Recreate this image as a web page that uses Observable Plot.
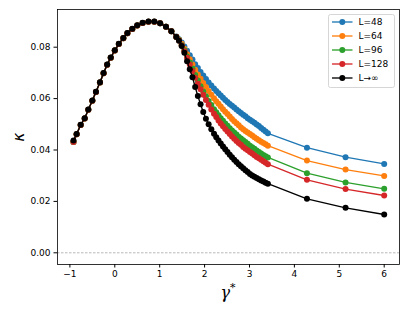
<!DOCTYPE html>
<html>
<head>
<meta charset="utf-8">
<script src="https://cdn.jsdelivr.net/npm/d3@7"></script>
<script src="https://cdn.jsdelivr.net/npm/@observablehq/plot@0.6"></script>
<style>
  html, body { margin: 0; padding: 0; background: white; }
  #chart { width: 409px; height: 313px; }
</style>
</head>
<body>
<div id="chart"></div>
<script>
const gamma = [-0.92,-0.85,-0.76,-0.67,-0.59,-0.50,-0.42,-0.33,-0.25,-0.17,-0.09,0.00,0.09,0.19,0.28,0.39,0.50,0.62,0.75,0.88,1.01,1.14,1.26,
  1.37,1.43,1.49,1.55,1.61,1.67,1.73,1.79,1.85,1.91,1.97,2.03,2.09,2.15,
  2.21,2.26,2.31,2.36,2.41,2.46,2.51,2.56,2.61,2.66,2.71,2.76,2.81,2.86,2.91,2.96,3.01,3.06,3.11,3.16,3.21,3.26,3.31,3.36,3.41,
  4.28,5.14,6.00];

const kappa48 = [0.0431,0.0461,0.0497,0.0523,0.0557,0.0592,0.0626,0.0663,0.0699,0.0732,0.0759,0.0787,0.0812,0.0835,0.0854,0.0871,0.0884,0.0894,0.0899,0.0899,0.0893,0.0880,0.0862,
  0.0842,0.0831,0.0818,0.0803,0.0786,0.0769,0.0752,0.0734,0.0719,0.0704,0.0690,0.0676,0.0663,0.0651,
  0.0639,0.0630,0.0621,0.0612,0.0603,0.0595,0.0587,0.0579,0.0572,0.0565,0.0558,0.0551,0.0544,0.0537,0.0531,0.0524,0.0518,0.0512,0.0506,0.0499,0.0493,0.0486,0.0479,0.0472,0.0465,
  0.0409,0.0372,0.0346];
const kappa64 = [0.0431,0.0461,0.0497,0.0523,0.0557,0.0592,0.0626,0.0663,0.0699,0.0732,0.0759,0.0787,0.0812,0.0835,0.0854,0.0871,0.0884,0.0894,0.0899,0.0899,0.0893,0.0880,0.0862,
  0.0841,0.0829,0.0813,0.0794,0.0773,0.0753,0.0733,0.0712,0.0694,0.0677,0.0661,0.0645,0.0630,0.0615,
  0.0601,0.0590,0.0580,0.0569,0.0559,0.0549,0.0540,0.0530,0.0521,0.0512,0.0504,0.0496,0.0488,0.0481,0.0474,0.0468,0.0462,0.0456,0.0450,0.0444,0.0438,0.0432,0.0427,0.0422,0.0417,
  0.0359,0.0324,0.0299];
const kappa96 = [0.0431,0.0461,0.0497,0.0523,0.0557,0.0592,0.0626,0.0663,0.0699,0.0732,0.0759,0.0787,0.0812,0.0835,0.0854,0.0871,0.0884,0.0894,0.0899,0.0899,0.0893,0.0880,0.0862,
  0.0840,0.0827,0.0809,0.0788,0.0764,0.0740,0.0717,0.0692,0.0670,0.0648,0.0628,0.0609,0.0591,0.0575,
  0.0559,0.0547,0.0535,0.0524,0.0514,0.0503,0.0494,0.0485,0.0476,0.0468,0.0460,0.0452,0.0445,0.0438,0.0431,0.0424,0.0417,0.0411,0.0405,0.0398,0.0392,0.0386,0.0381,0.0376,0.0371,
  0.0310,0.0274,0.0249];
const kappa128 = [0.0431,0.0461,0.0497,0.0523,0.0557,0.0592,0.0626,0.0663,0.0699,0.0732,0.0759,0.0787,0.0812,0.0835,0.0854,0.0871,0.0884,0.0894,0.0899,0.0899,0.0893,0.0880,0.0862,
  0.0840,0.0826,0.0807,0.0784,0.0759,0.0733,0.0707,0.0681,0.0658,0.0636,0.0615,0.0595,0.0576,0.0558,
  0.0541,0.0528,0.0515,0.0503,0.0492,0.0482,0.0472,0.0462,0.0453,0.0444,0.0435,0.0427,0.0420,0.0412,0.0405,0.0399,0.0392,0.0386,0.0380,0.0373,0.0368,0.0362,0.0356,0.0350,0.0345,
  0.0284,0.0248,0.0223];
const kappaInf = [0.0437,0.0462,0.0498,0.0524,0.0558,0.0593,0.0627,0.0664,0.0700,0.0733,0.0760,0.0788,0.0813,0.0836,0.0855,0.0872,0.0885,0.0895,0.0900,0.0900,0.0893,0.0880,0.0862,
  0.0840,0.0825,0.0805,0.0778,0.0745,0.0714,0.0683,0.0645,0.0610,0.0578,0.0548,0.0522,0.0500,0.0481,
  0.0463,0.0450,0.0437,0.0425,0.0414,0.0403,0.0392,0.0382,0.0372,0.0362,0.0353,0.0345,0.0337,0.0329,0.0321,0.0314,0.0307,0.0301,0.0296,0.0291,0.0286,0.0281,0.0277,0.0273,0.0269,
  0.0210,0.0175,0.0149];

const seriesNames = ["L=48","L=64","L=96","L=128","L→∞"];
const seriesValues = [kappa48, kappa64, kappa96, kappa128, kappaInf];
const seriesColors = ["#1f77b4","#ff7f0e","#2ca02c","#d62728","#000000"];
const xTicks = [-1,0,1,2,3,4,5,6];
const yTicks = [0.00,0.02,0.04,0.06,0.08];

const data = [];
seriesNames.forEach((name, i) => {
  gamma.forEach((g, j) => data.push({series: name, gamma: g, kappa: seriesValues[i][j]}));
});

const marks = [
  Plot.ruleY([0], {stroke: "#888", strokeWidth: 0.6, strokeDasharray: "2.5,1.5"}),
];
seriesNames.forEach((name, i) => {
  const d = data.filter(r => r.series === name);
  marks.push(Plot.line(d, {x: "gamma", y: "kappa", stroke: seriesColors[i], strokeWidth: 1.33}));
  marks.push(Plot.dot(d, {x: "gamma", y: "kappa", fill: seriesColors[i], r: 3, stroke: "none"}));
});
marks.push(Plot.frame({stroke: "black", strokeWidth: 0.8}));

const chart = Plot.plot({
  width: 409,
  height: 313,
  marginLeft: 57,
  marginRight: 10,
  marginTop: 9,
  marginBottom: 49,
  style: {fontFamily: "DejaVu Sans", fontSize: "9px", color: "black", background: "white"},
  x: {domain: [-1.276, 6.341], ticks: xTicks, tickSize: 3.5, tickPadding: 3, label: null,
      tickFormat: d => d < 0 ? "\u2212" + Math.abs(d) : String(d)},
  y: {domain: [-0.00455, 0.09467], ticks: yTicks, tickSize: 3.5, tickPadding: 3.5, label: null,
      tickFormat: d3.format(".2f")},
  marks
});

const svg = d3.select(chart);

// axis labels
svg.append("text")
  .attr("transform", "translate(19,137) rotate(-90)")
  .attr("text-anchor", "middle")
  .attr("dominant-baseline", "middle")
  .style("font-family", "DejaVu Sans")
  .style("font-style", "italic")
  .style("font-size", "15px")
  .text("κ");

const xl = svg.append("text")
  .attr("x", 228).attr("y", 298)
  .attr("text-anchor", "middle")
  .style("font-family", "DejaVu Serif")
  .style("font-style", "italic")
  .style("font-size", "16px");
xl.append("tspan").text("γ");
xl.append("tspan").attr("dy", -7).style("font-size", "11px").style("font-style", "normal").text("*");

// legend
const lg = svg.append("g").attr("text-anchor", "start");
lg.append("rect")
  .attr("x", 328.5).attr("y", 14.5).attr("width", 66).attr("height", 73).attr("rx", 2)
  .attr("fill", "white").attr("fill-opacity", 0.8)
  .attr("stroke", "#cccccc").attr("stroke-width", 0.8);
seriesNames.forEach((name, i) => {
  const y = 22 + i * 14;
  lg.append("line").attr("x1", 332).attr("x2", 352.5).attr("y1", y).attr("y2", y)
    .attr("stroke", seriesColors[i]).attr("stroke-width", 1.33);
  lg.append("circle").attr("cx", 342.3).attr("cy", y).attr("r", 3).attr("fill", seriesColors[i]);
  lg.append("text").attr("x", 358.5).attr("y", y).attr("dominant-baseline", "central")
    .attr("text-anchor", "start")
    .style("font-family", "DejaVu Sans").style("font-size", "9px").attr("fill", "black")
    .text(name);
});

document.getElementById("chart").appendChild(chart);
</script>
</body>
</html>
